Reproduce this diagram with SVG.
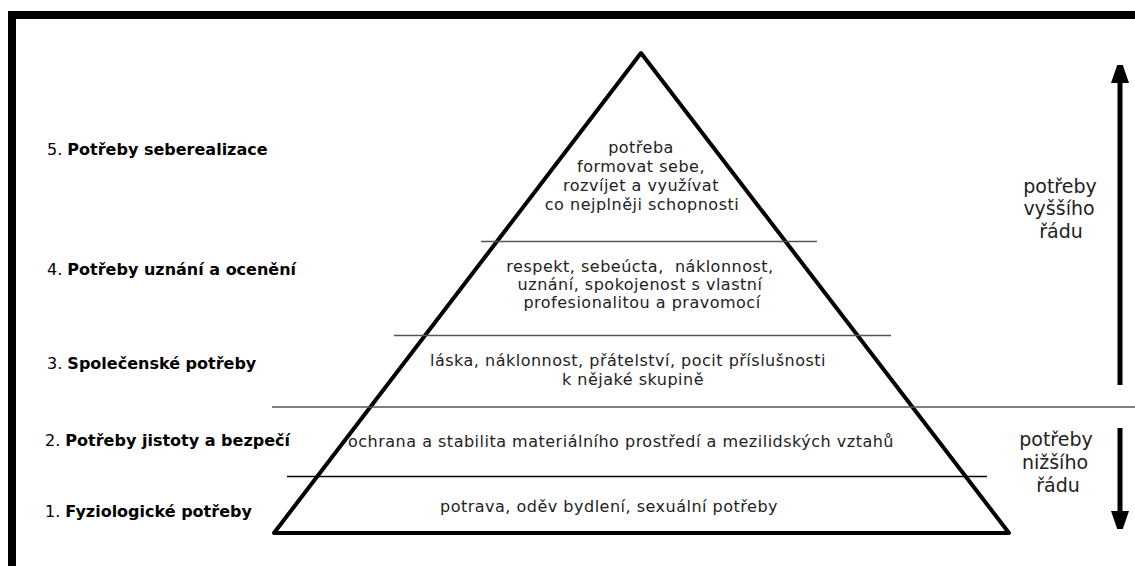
<svg xmlns="http://www.w3.org/2000/svg" width="1135" height="566" viewBox="0 0 1135 566">
<style>
.lbl{font-family:"DejaVu Sans",Verdana,sans-serif;font-size:16px;fill:#000}
.lbl tspan.b{font-weight:bold}
.in{font-family:"DejaVu Sans",Verdana,sans-serif;font-size:16px;letter-spacing:0.5px;fill:#222;text-anchor:middle}
.side{font-family:"DejaVu Sans",Verdana,sans-serif;font-size:19px;fill:#222;text-anchor:middle}
.div{stroke:#555;stroke-width:1.5;fill:none}
</style>
<defs>
<marker id="ah" viewBox="0 0 18 26" refX="0" refY="9" markerWidth="18" markerHeight="26" markerUnits="userSpaceOnUse" orient="auto">
<path d="M0,0 L26,9 L0,18 Z" fill="#000"/>
</marker>
</defs>
<rect width="1135" height="566" fill="#fff"/>
<path d="M12,566 V15 H1135" fill="none" stroke="#000" stroke-width="8"/>

<g id="pyramid">
<path d="M274,533 L641,53 L1009,533 Z" fill="none" stroke="#000" stroke-width="4" stroke-linejoin="round"/>
<line class="div" x1="481" y1="241.5" x2="817" y2="241.5"/>
<line class="div" x1="394" y1="335.5" x2="891" y2="335.5"/>
<line class="div" x1="272" y1="407" x2="1135" y2="407"/>
<line x1="287" y1="476.5" x2="987" y2="476.5" stroke="#000" stroke-width="1.5"/>
</g>

<g id="level5">
<text class="lbl" x="47" y="155">5. <tspan class="b">Potřeby seberealizace</tspan></text>
<text class="in" x="641" y="153">potřeba</text>
<text class="in" x="641" y="172">formovat sebe,</text>
<text class="in" x="641" y="191">rozvíjet a využívat</text>
<text class="in" x="642" y="210">co nejplněji schopnosti</text>
</g>

<g id="level4">
<text class="lbl" x="47" y="275">4. <tspan class="b">Potřeby uznání a ocenění</tspan></text>
<text class="in" x="640" y="272" xml:space="preserve">respekt, sebeúcta,  náklonnost,</text>
<text class="in" x="640" y="290">uznání, spokojenost s vlastní</text>
<text class="in" x="642" y="308">profesionalitou a pravomocí</text>
</g>

<g id="level3">
<text class="lbl" x="47" y="369">3. <tspan class="b">Společenské potřeby</tspan></text>
<text class="in" x="628" y="366">láska, náklonnost, přátelství, pocit příslušnosti</text>
<text class="in" x="633" y="385">k nějaké skupině</text>
</g>

<g id="level2">
<text class="lbl" x="45" y="446">2. <tspan class="b">Potřeby jistoty a bezpečí</tspan></text>
<text class="in" x="621" y="447">ochrana a stabilita materiálního prostředí a mezilidských vztahů</text>
</g>

<g id="level1">
<text class="lbl" x="45" y="517">1. <tspan class="b">Fyziologické potřeby</tspan></text>
<text class="in" x="609" y="512">potrava, oděv bydlení, sexuální potřeby</text>
</g>

<g id="higher">
<text class="side" x="1060" y="193">potřeby</text>
<text class="side" x="1059" y="215">vyššího</text>
<text class="side" x="1061" y="238">řádu</text>
</g>

<g id="lower">
<text class="side" x="1056" y="446">potřeby</text>
<text class="side" x="1055" y="469">nižšího</text>
<text class="side" x="1058" y="492">řádu</text>
</g>

<g id="connectors" stroke="#000" stroke-width="5" fill="none">
<line x1="1120" y1="385" x2="1120" y2="83" marker-end="url(#ah)"/>
<line x1="1120" y1="428" x2="1120" y2="511" marker-end="url(#ah)"/>
</g>
</svg>
